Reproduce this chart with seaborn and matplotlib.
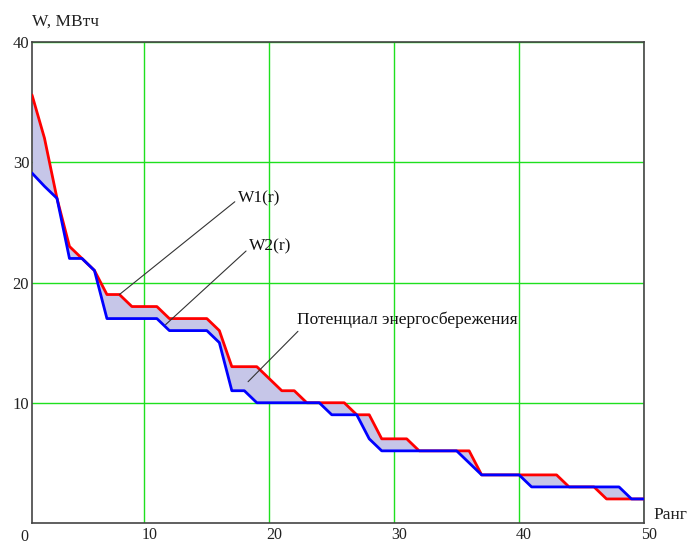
import numpy as np
import pandas as pd
import matplotlib
matplotlib.use("Agg")
import matplotlib.pyplot as plt
from matplotlib.transforms import ScaledTranslation
import seaborn as sns

# ---- data ----
rank = list(range(1, 51))
w1 = [35.6, 32, 27, 23, 22, 21, 19, 19, 18, 18,
      18, 17, 17, 17, 17, 16, 13, 13, 13, 12,
      11, 11, 10, 10, 10, 10, 9, 9, 7, 7,
      7, 6, 6, 6, 6, 6, 4, 4, 4, 4,
      4, 4, 4, 3, 3, 3, 2, 2, 2, 2]
w2 = [29.1, 28, 27, 22, 22, 21, 17, 17, 17, 17,
      17, 16, 16, 16, 16, 15, 11, 11, 10, 10,
      10, 10, 10, 10, 9, 9, 9, 7, 6, 6,
      6, 6, 6, 6, 6, 5, 4, 4, 4, 4,
      3, 3, 3, 3, 3, 3, 3, 3, 2, 2]
x_ticks = [10, 20, 30, 40, 50]
y_ticks = [10, 20, 30, 40]
y_label = "W, МВтч"
x_label = "Ранг"
labels = ["W1(r)", "W2(r)", "Потенциал энергосбережения"]

sns.set_style("white")
plt.rcParams['font.family'] = ['Liberation Serif', 'DejaVu Serif']

fig = plt.figure(figsize=(6.88, 5.46), dpi=100)
ax = fig.add_axes([32/688, 1 - 523/546, 612/688, 481/546])

df = pd.DataFrame({'r': rank, 'W1': w1, 'W2': w2})
ax.fill_between(df['r'], df['W1'], df['W2'], color='#c6c6e8', linewidth=0, zorder=2)
sns.lineplot(data=df, x='r', y='W1', color='#ff0000', lw=2.0, ax=ax, zorder=3)
sns.lineplot(data=df, x='r', y='W2', color='#0000ff', lw=2.0, ax=ax, zorder=4)

ax.set_xlim(1, 50)
ax.set_ylim(0, 40)
ax.set_xticks(x_ticks)
ax.set_yticks(y_ticks)
ax.set_xlabel("")
ax.set_ylabel("")
ax.grid(True, color='#1ee01e', lw=1.0, zorder=1)
ax.set_axisbelow(True)
ax.tick_params(axis='both', length=0, labelsize=12, colors='#222222')
ax.tick_params(axis='x', pad=3, labelsize=11.5)
ax.tick_params(axis='y', pad=2)
for sp in ax.spines.values():
    sp.set_color('#444444')
    sp.set_linewidth(1.2)

shift = ScaledTranslation(5/100, 0, fig.dpi_scale_trans)
for lab in ax.get_xticklabels():
    lab.set_transform(lab.get_transform() + shift)

# "0" label sitting left of the axis start
ax.text(0, 0, "0", transform=ax.transData + ScaledTranslation(5/100, -14/100, fig.dpi_scale_trans),
        ha='center', va='center', fontsize=11.5, color='#222222', clip_on=False)

ax.text(0, 1.0416, y_label, transform=ax.transAxes, ha='left', va='center',
        fontsize=12.5, color='#222222')
ax.text(1.0147, 0.0166, x_label, transform=ax.transAxes, ha='left', va='center',
        fontsize=12.5, color='#222222')

arrow = dict(arrowstyle='-', color='#333333', lw=0.8, shrinkA=0, shrinkB=0)
ax.annotate(labels[0], xy=(8, 19), xytext=(17.5, 27.0), ha='left', va='center',
            fontsize=12.5, color='#111111',
            arrowprops=dict(arrow, relpos=(0, 0.45)), zorder=6)
ax.annotate(labels[1], xy=(11.7, 16.5), xytext=(18.4, 23.0), ha='left', va='center',
            fontsize=12.5, color='#111111',
            arrowprops=dict(arrow, relpos=(0, 0.4)), zorder=6)
ax.annotate(labels[2], xy=(18.3, 11.75), xytext=(22.2, 16.9), ha='left', va='center',
            fontsize=12.5, color='#111111',
            arrowprops=dict(arrow, relpos=(0.02, 0.0)), zorder=6)

fig.savefig("out.png", dpi=100)
